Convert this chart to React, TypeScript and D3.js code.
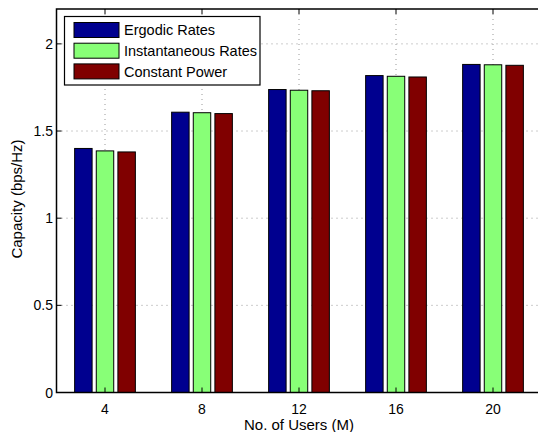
import * as d3 from "d3";

const users = ["4", "8", "12", "16", "20"];
const seriesNames = ["Ergodic Rates", "Instantaneous Rates", "Constant Power"];
const ergodic = [1.40, 1.608, 1.738, 1.818, 1.882];
const instantaneous = [1.386, 1.605, 1.734, 1.814, 1.880];
const constantPower = [1.380, 1.600, 1.731, 1.810, 1.877];
const colors = ["#00008F", "#88FF77", "#800000"];
const yTicks = [0, 0.5, 1, 1.5, 2];

const W = 538;
const H = 432;
const margin = { left: 56.5, top: 9, bottom: 392.5 };

export default function App() {
  const series = [ergodic, instantaneous, constantPower];
  // categories at 1..5, xlim [0.5, 5.5]
  const x = d3.scaleLinear().domain([0.5, 5.5]).range([margin.left, margin.left + 5 * 97]);
  const y = d3.scaleLinear().domain([0, 2.2]).range([margin.bottom, margin.top]);
  const barW = 0.18;
  const offsets = [-0.223, 0, 0.223];
  const font = "'Liberation Sans', Arial, Helvetica, sans-serif";
  const right = x(5.5);

  return (
    <div style={{ position: "fixed", left: 0, top: 0 }}>
      <svg width={W} height={H} style={{ display: "block", background: "white" }} fontFamily={font}>
        {/* grid */}
        {yTicks.slice(1).map((t) => (
          <line key={"gy" + t} x1={margin.left} x2={right} y1={y(t)} y2={y(t)}
            stroke="#999" strokeWidth={1} strokeDasharray="1,4" />
        ))}
        {users.map((u, i) => (
          <line key={"gx" + u} x1={x(i + 1)} x2={x(i + 1)} y1={margin.top} y2={margin.bottom}
            stroke="#999" strokeWidth={1} strokeDasharray="1,4" />
        ))}
        {/* bars */}
        {series.map((vals, s) =>
          vals.map((v, i) => {
            const cx = x(i + 1 + offsets[s]);
            const w = x(barW) - x(0);
            return (
              <rect key={s + "-" + i} x={cx - w / 2} y={y(v)} width={w} height={y(0) - y(v)}
                fill={colors[s]} stroke="#000" strokeWidth={1} />
            );
          })
        )}
        {/* axes box */}
        <path d={`M${right},${margin.top}H${margin.left}V${margin.bottom}H${right}`}
          fill="none" stroke="#000" strokeWidth={1.5} />
        {/* ticks */}
        {yTicks.map((t) => (
          <g key={"ty" + t}>
            <line x1={margin.left} x2={margin.left + 5} y1={y(t)} y2={y(t)} stroke="#000" />
            <text x={53} y={y(t)} dy="0.36em" textAnchor="end" fontSize={14}>{t}</text>
          </g>
        ))}
        {users.map((u, i) => (
          <g key={"tx" + u}>
            <line x1={x(i + 1)} x2={x(i + 1)} y1={margin.bottom} y2={margin.bottom - 5} stroke="#000" />
            <line x1={x(i + 1)} x2={x(i + 1)} y1={margin.top} y2={margin.top + 5} stroke="#000" />
            <text x={x(i + 1)} y={414} textAnchor="middle" fontSize={14}>{u}</text>
          </g>
        ))}
        {/* axis labels */}
        <text x={x(3)} y={430} textAnchor="middle" fontSize={15}>No. of Users (M)</text>
        <text transform={`translate(22,199) rotate(-90)`}
          textAnchor="middle" fontSize={15}>Capacity (bps/Hz)</text>
        {/* legend */}
        <g transform="translate(64.5,16.5)">
          <rect x={0} y={0} width={195.5} height={68.5} fill="white" stroke="#000" strokeWidth={1.2} />
          {seriesNames.map((n, s) => (
            <g key={n} transform={`translate(0,${13.5 + s * 20.7})`}>
              <rect x={9.5} y={-7.5} width={45} height={15} fill={colors[s]} stroke="#000" />
              <text x={59.5} y={0} dy="0.36em" fontSize={14.5}>{n}</text>
            </g>
          ))}
        </g>
      </svg>
    </div>
  );
}
